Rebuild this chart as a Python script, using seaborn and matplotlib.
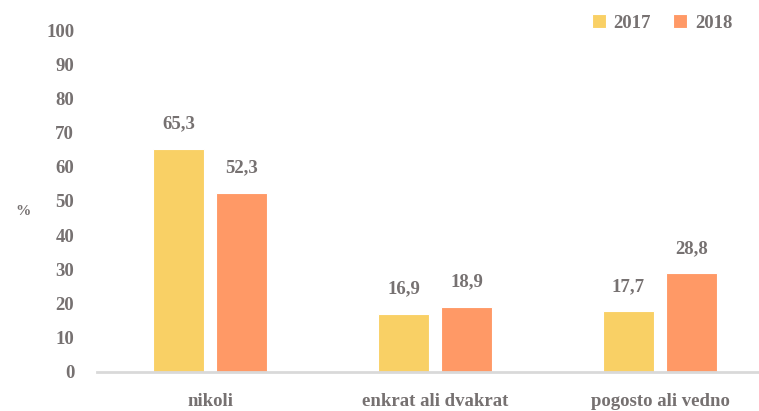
import pandas as pd
import matplotlib.pyplot as plt
import seaborn as sns

# values
categories = ['nikoli', 'enkrat ali dvakrat', 'pogosto ali vedno']
years = ['2017', '2018']
vals_2017 = [65.3, 16.9, 17.7]
vals_2018 = [52.3, 18.9, 28.8]
yticks = [0, 10, 20, 30, 40, 50, 60, 70, 80, 90, 100]

df = pd.DataFrame({
    'kategorija': categories * 2,
    'leto': [years[0]] * 3 + [years[1]] * 3,
    'odstotek': vals_2017 + vals_2018,
})

sns.set_style('white')
plt.rcParams['font.family'] = ['Liberation Serif', 'DejaVu Serif']
txt = '#767171'

fig = plt.figure(figsize=(7.59, 4.11), dpi=100)
ax = fig.add_axes([0.128, 0.095, 0.872, 0.832])

sns.barplot(data=df, x='kategorija', y='odstotek', hue='leto',
            palette=['#F9D065', '#FF9966'], saturation=1, width=0.56, gap=0.2,
            edgecolor='white', linewidth=0.8, ax=ax)

for cont in ax.containers:
    ax.bar_label(cont, labels=[f'{v:.1f}'.replace('.', ',') for v in cont.datavalues],
                 padding=12, fontsize=13.5, fontweight='bold', color=txt)

ax.set_ylim(0, 100)
ax.set_xlim(-0.502, 2.44)
ax.set_yticks(yticks)
ax.set_yticklabels([str(t) for t in yticks], fontsize=13.5, fontweight='bold', color=txt)
ax.set_xticks(range(len(categories)))
ax.set_xticklabels(categories, fontsize=13.5, fontweight='bold', color=txt)
ax.tick_params(axis='y', length=0, pad=16.5)
ax.tick_params(axis='x', length=0, pad=15)
ax.set_xlabel('')
ax.set_ylabel('%', rotation=0, fontsize=11, fontweight='bold', color=txt)
ax.yaxis.set_label_coords(-0.112, 0.45)

for s in ['top', 'right', 'left']:
    ax.spines[s].set_visible(False)
ax.spines['bottom'].set_color('#D9D9D9')
ax.spines['bottom'].set_linewidth(2)

leg = ax.legend(loc='upper right', bbox_to_anchor=(0.985, 1.095), ncol=2, frameon=False,
                handlelength=0.75, handleheight=0.75, handletextpad=0.4, columnspacing=1.2,
                prop={'size': 13.5, 'weight': 'bold'})
for t in leg.get_texts():
    t.set_color(txt)

fig.savefig('out.png', dpi=100)
